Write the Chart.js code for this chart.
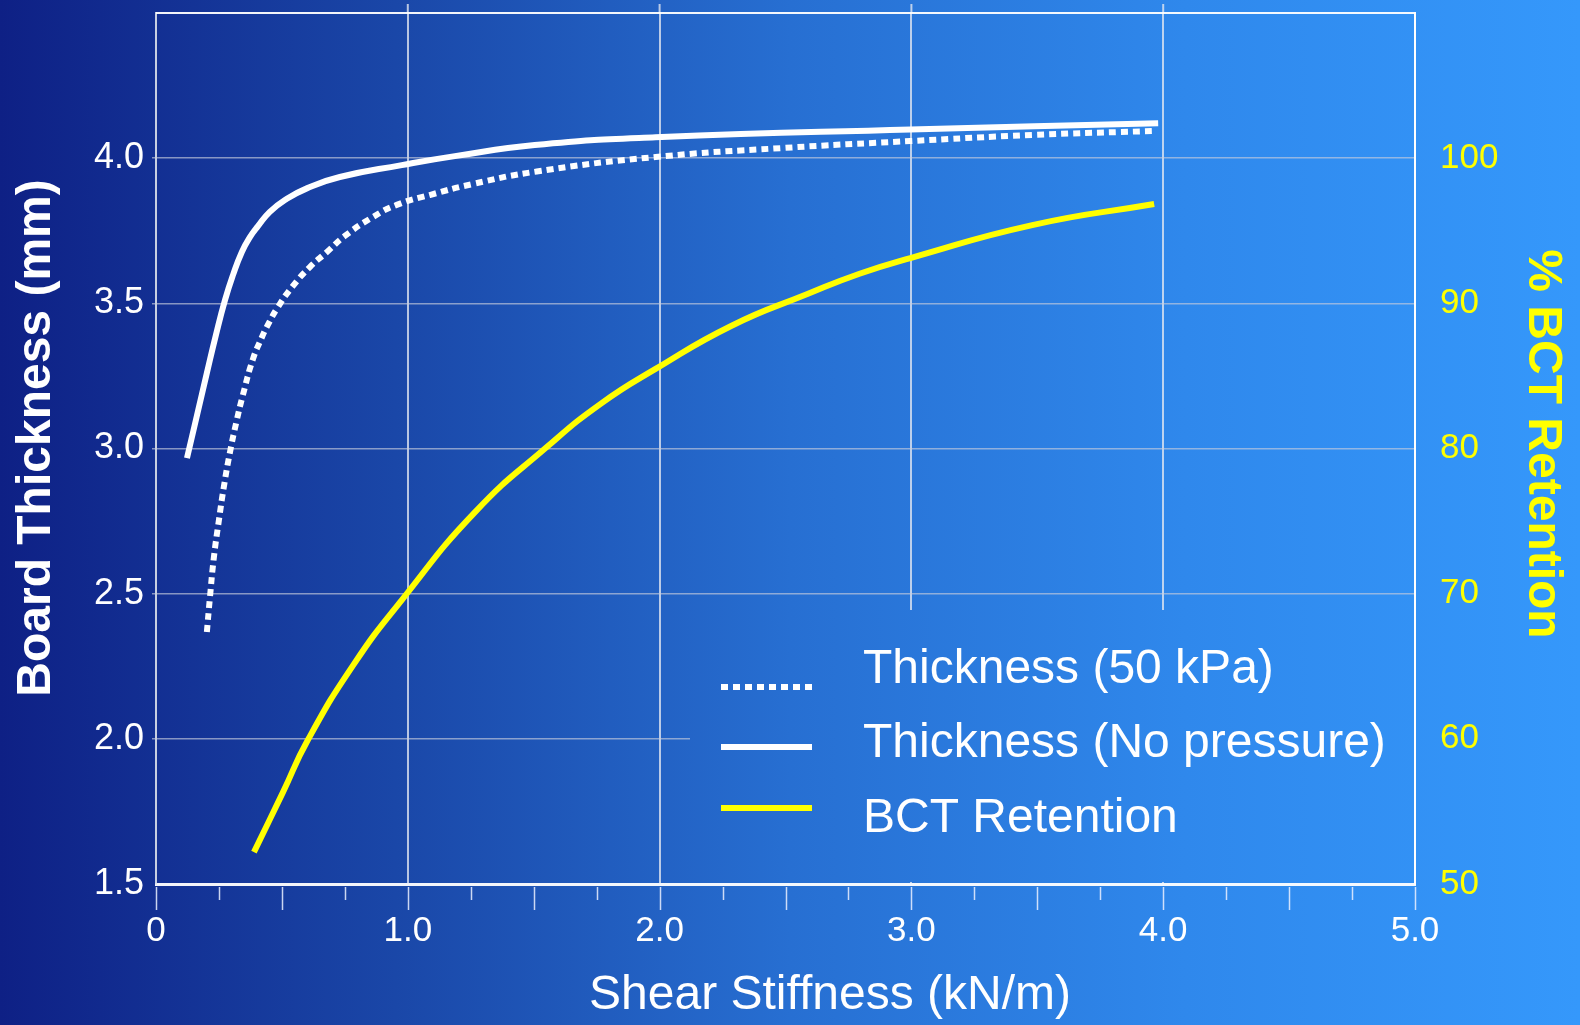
<!DOCTYPE html>
<html>
<head>
<meta charset="utf-8">
<script src="https://cdn.jsdelivr.net/npm/chart.js@4"></script>
<style>
html,body{margin:0;padding:0;background:#1f55b5;}
#wrap{width:1580px;height:1025px;}
</style>
</head>
<body>
<div id="wrap"><canvas id="c" width="1580" height="1025"></canvas></div>
<script>
// ---- data ----
const noPressureX = [0.123,0.163,0.202,0.238,0.274,0.306,0.341,0.373,0.405,0.452,0.512,0.599,0.730,0.976,1.187,1.504,1.984,2.996,3.980];
const noPressureY = [2.967,3.115,3.260,3.391,3.511,3.598,3.677,3.728,3.766,3.815,3.856,3.896,3.935,3.976,4.007,4.045,4.072,4.099,4.120];

const kpa50X = [0.202,0.214,0.230,0.250,0.270,0.294,0.321,0.345,0.385,0.421,0.440,0.484,0.544,0.611,0.679,0.750,0.861,0.956,1.087,1.258,1.512,1.984,2.488,2.996,3.488,3.972];
const kpa50Y = [2.368,2.485,2.626,2.754,2.871,2.988,3.098,3.184,3.308,3.384,3.419,3.487,3.560,3.625,3.677,3.732,3.797,3.839,3.873,3.911,3.954,4.004,4.035,4.059,4.080,4.094];

const bctX = [0.389,0.504,0.603,0.786,0.976,1.266,1.552,1.770,1.984,2.286,2.587,2.794,2.996,3.480,3.964];
const bctY = [52.20,56.31,59.92,65.15,69.56,75.60,80.10,83.13,85.48,88.46,90.64,92.04,93.12,95.39,96.84];

const seriesNames = ['Thickness (50 kPa)','Thickness (No pressure)','BCT Retention'];
const xTitle = 'Shear Stiffness (kN/m)';
const yTitle = 'Board Thickness (mm)';
const y1Title = '% BCT Retention';
const xTickLabels = {0:'0',1:'1.0',2:'2.0',3:'3.0',4:'4.0',5:'5.0'};

const pts = (xs, ys) => xs.map((x, i) => ({x: x, y: ys[i]}));

const FONT = "'Liberation Sans', Arial, Helvetica, sans-serif";
const YELLOW = '#ffff00';

function bgGradient(ctx, w) {
  const g = ctx.createLinearGradient(0, 0, w, 0);
  g.addColorStop(0, '#0e2085');
  g.addColorStop(0.25, '#1a47a8');
  g.addColorStop(0.5, '#276fd2');
  g.addColorStop(0.75, '#2f88ec');
  g.addColorStop(1, '#3598fb');
  return g;
}

const decorPlugin = {
  id: 'decor',
  beforeDraw(chart) {
    const ctx = chart.ctx;
    ctx.save();
    ctx.fillStyle = bgGradient(ctx, chart.width);
    ctx.fillRect(0, 0, chart.width, chart.height);
    ctx.restore();
  },
  beforeDatasetsDraw(chart) {
    const ctx = chart.ctx;
    const a = chart.chartArea;
    const xs = chart.scales.x;
    ctx.save();
    // legend box (covers grid lines)
    const lx = 690, ly = 610;
    ctx.fillStyle = bgGradient(ctx, chart.width);
    ctx.fillRect(lx, ly, a.right - lx - 1, a.bottom - ly - 2);

    // grid lines poke slightly above the top frame
    ctx.strokeStyle = 'rgba(225,230,240,0.8)';
    ctx.lineWidth = 2;
    for (let v = 1; v <= 4; v++) {
      const px = xs.getPixelForValue(v);
      ctx.beginPath();
      ctx.moveTo(px, a.top - 9);
      ctx.lineTo(px, a.top);
      ctx.stroke();
    }

    // top and right border
    ctx.strokeStyle = 'rgba(255,255,255,0.95)';
    ctx.lineWidth = 2;
    ctx.beginPath();
    ctx.moveTo(a.left, a.top);
    ctx.lineTo(a.right, a.top);
    ctx.lineTo(a.right, a.bottom);
    ctx.stroke();

    // x tick marks (major every 0.5, minor every 0.25)
    ctx.strokeStyle = 'rgba(235,240,255,0.85)';
    ctx.lineWidth = 1.5;
    for (let v = 0; v <= 5.0001; v += 0.25) {
      const px = Math.round(xs.getPixelForValue(v)) + 0.5;
      const major = Math.abs(v * 2 - Math.round(v * 2)) < 1e-6;
      ctx.beginPath();
      ctx.moveTo(px, a.bottom + 3);
      ctx.lineTo(px, a.bottom + (major ? 26 : 16));
      ctx.stroke();
    }

    // legend
    const items = [
      {label: seriesNames[0], color: '#ffffff', dash: [7, 5], y: 687, base: 683},
      {label: seriesNames[1], color: '#ffffff', dash: [], y: 747, base: 757},
      {label: seriesNames[2], color: YELLOW, dash: [], y: 808, base: 832}
    ];
    items.forEach(it => {
      ctx.strokeStyle = it.color;
      ctx.lineWidth = 6;
      ctx.setLineDash(it.dash);
      ctx.lineCap = 'butt';
      ctx.beginPath();
      ctx.moveTo(721, it.y);
      ctx.lineTo(812, it.y);
      ctx.stroke();
      ctx.setLineDash([]);
      ctx.fillStyle = '#ffffff';
      ctx.font = '48px ' + FONT;
      ctx.textAlign = 'left';
      ctx.textBaseline = 'alphabetic';
      ctx.fillText(it.label, 863, it.base);
    });

    // axis titles
    ctx.fillStyle = '#ffffff';
    ctx.font = '48px ' + FONT;
    ctx.textAlign = 'center';
    ctx.textBaseline = 'middle';
    ctx.fillText(xTitle, 830, 996);

    ctx.save();
    ctx.translate(37, 438);
    ctx.rotate(-Math.PI / 2);
    ctx.font = 'bold 48px ' + FONT;
    ctx.fillText(yTitle, 0, 0);
    ctx.restore();

    ctx.save();
    ctx.translate(1542, 444);
    ctx.rotate(Math.PI / 2);
    ctx.font = 'bold 48px ' + FONT;
    ctx.fillStyle = YELLOW;
    ctx.fillText(y1Title, 0, 0);
    ctx.restore();

    ctx.restore();
  }
};

const chart = new Chart(document.getElementById('c'), {
  type: 'line',
  data: {
    datasets: [
      {
        label: seriesNames[0],
        data: pts(kpa50X, kpa50Y),
        yAxisID: 'y',
        borderColor: '#ffffff',
        borderWidth: 6,
        borderDash: [7, 5],
        pointRadius: 0,
        tension: 0.5,
        fill: false
      },
      {
        label: seriesNames[1],
        data: pts(noPressureX, noPressureY),
        yAxisID: 'y',
        borderColor: '#ffffff',
        borderWidth: 6,
        pointRadius: 0,
        tension: 0.5,
        fill: false
      },
      {
        label: seriesNames[2],
        data: pts(bctX, bctY),
        yAxisID: 'y1',
        borderColor: YELLOW,
        borderWidth: 6,
        pointRadius: 0,
        tension: 0.5,
        fill: false
      }
    ]
  },
  options: {
    responsive: false,
    animation: false,
    devicePixelRatio: 1,
    layout: {padding: {top: 13, left: 0, right: 0, bottom: 0}},
    plugins: {legend: {display: false}, tooltip: {enabled: false}},
    scales: {
      x: {
        type: 'linear',
        min: 0, max: 5,
        ticks: {
          stepSize: 0.25,
          autoSkip: false,
          maxRotation: 0,
          color: '#ffffff',
          font: {family: FONT, size: 35},
          padding: 26,
          callback: (v) => {
            const r = Math.round(v);
            return Math.abs(v - r) < 1e-6 ? xTickLabels[r] : '';
          }
        },
        grid: {
          drawTicks: false,
          lineWidth: 2,
          color: (c) => {
            const v = c.tick ? c.tick.value : 0;
            const r = Math.round(v);
            return (Math.abs(v - r) < 1e-6 && r > 0 && r < 5) ? 'rgba(225,230,240,0.8)' : 'rgba(0,0,0,0)';
          }
        },
        border: {color: 'rgba(255,255,255,0.95)', width: 3},
        afterFit: (s) => { s.height = 141; s.paddingLeft = 0; s.paddingRight = 0; }
      },
      y: {
        type: 'linear',
        position: 'left',
        min: 1.5, max: 4.5,
        ticks: {
          stepSize: 0.5,
          color: '#ffffff',
          font: {family: FONT, size: 36},
          padding: 8,
          callback: (v) => (v >= 4.49 ? '' : v.toFixed(1))
        },
        grid: {
          tickLength: 4,
          lineWidth: 1.5,
          color: (c) => (c.tick && (c.tick.value <= 1.51 || c.tick.value >= 4.49)) ? 'rgba(0,0,0,0)' : 'rgba(200,205,220,0.65)'
        },
        border: {color: 'rgba(220,225,235,0.9)', width: 2},
        afterFit: (s) => { s.width = 156; s.paddingTop = 0; s.paddingBottom = 0; }
      },
      y1: {
        type: 'linear',
        position: 'right',
        min: 50, max: 110,
        ticks: {
          stepSize: 10,
          color: YELLOW,
          font: {family: FONT, size: 35},
          padding: 25,
          callback: (v) => (v >= 109 ? '' : String(v))
        },
        grid: {drawOnChartArea: false, drawTicks: false},
        border: {color: 'rgba(255,255,255,0.95)', width: 2},
        afterFit: (s) => { s.width = 165; s.paddingTop = 0; s.paddingBottom = 0; }
      }
    }
  },
  plugins: [decorPlugin]
});
</script>
</body>
</html>
